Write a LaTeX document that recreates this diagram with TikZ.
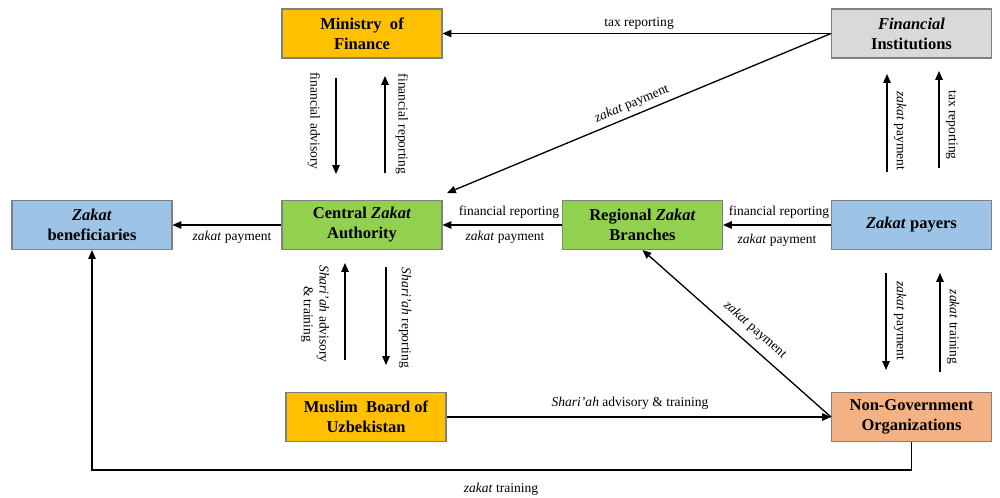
\documentclass[tikz,border=0pt]{standalone}
\usepackage{fontspec}
\setmainfont{Liberation Serif}
\usepackage{xcolor}
\usetikzlibrary{arrows.meta}

\definecolor{finorange}{HTML}{FFC000}
\definecolor{instgray}{HTML}{D9D9D9}
\definecolor{payblue}{HTML}{9DC3E6}
\definecolor{zakgreen}{HTML}{92D050}
\definecolor{ngosalmon}{HTML}{F4B183}

\tikzset{
  orgbox/.style={draw=black!50, line width=0.6pt, minimum width=3.2cm, minimum height=0.98cm,
    align=center, inner sep=1pt, font=\fontsize{9.4}{11.4}\selectfont\bfseries},
  flow/.style={-{Triangle[length=5pt,width=4.2pt]}, line width=0.75pt},
  lbl/.style={inner sep=0pt, align=center, font=\fontsize{7.7}{9}\selectfont}
}

\begin{document}
\begin{tikzpicture}[x=0.02cm, y=-0.02cm]
    \useasboundingbox (0,0) rectangle (1000,497);

    %% boxes:
    \node[orgbox, fill=finorange] (mof) at (362,33.5) {Ministry\ \ of\\Finance};
    \node[orgbox, fill=instgray] (fin) at (911.5,33.5) {\textit{Financial}\\Institutions};
    \node[orgbox, fill=payblue] (ben) at (92,225) {\textit{Zakat}\\beneficiaries};
    \node[orgbox, fill=zakgreen] (cza) at (362,225) {Central \textit{Zakat}\\Authority};
    \node[orgbox, fill=zakgreen] (rzb) at (642.5,225) {Regional \textit{Zakat}\\Branches};
    \node[orgbox, fill=payblue] (zp) at (911.5,225) {\textit{Zakat} payers};
    \node[orgbox, fill=finorange] (mbu) at (366,417) {Muslim\ \ Board of\\Uzbekistan};
    \node[orgbox, fill=ngosalmon] (ngo) at (911.5,417) {Non-Government\\Organizations};

    %% free ends of the loose arrows
    \coordinate (dz) at (447,193);
    \coordinate (fa1) at (336,78);  \coordinate (fa2) at (336,174);
    \coordinate (fr1) at (385,173); \coordinate (fr2) at (385,76);
    \coordinate (sa1) at (345,360); \coordinate (sa2) at (345,263);
    \coordinate (sr1) at (386,267); \coordinate (sr2) at (386,365);
    \coordinate (zf1) at (887,172); \coordinate (zf2) at (887,74);
    \coordinate (tf1) at (939,168); \coordinate (tf2) at (939,71);
    \coordinate (zn1) at (886,273); \coordinate (zn2) at (886,370);
    \coordinate (tn1) at (940,372); \coordinate (tn2) at (940,273);

    %% top row
    \draw[flow] (fin.west) -- (mof.east);
    \node[lbl] (ltax) at (639,23) {tax reporting};
    \draw[flow] (fin.west) -- (dz);
    \node[lbl, rotate=22.6] (lzdiag) at (632,104) {\textit{zakat} payment};
    \draw[flow] (fa1) -- (fa2);
    \node[lbl, rotate=-90] (lfa) at (314,121) {financial advisory};
    \draw[flow] (fr1) -- (fr2);
    \node[lbl, rotate=-90] (lfr) at (402,124) {financial reporting};
    \draw[flow] (zf1) -- (zf2);
    \node[lbl, rotate=-90] (lzf) at (900,131) {\textit{zakat} payment};
    \draw[flow] (tf1) -- (tf2);
    \node[lbl, rotate=-90] (ltf) at (952,125) {tax reporting};

    %% middle row
    \draw[flow] (cza.west) -- (ben.east);
    \node[lbl] (lzb) at (232,237) {\textit{zakat} payment};
    \draw[flow] (rzb.west) -- (cza.east);
    \node[lbl] (lfr1) at (509,212) {financial reporting};
    \node[lbl] (lzp1) at (505,237) {\textit{zakat} payment};
    \draw[flow] (zp.west) -- (rzb.east);
    \node[lbl] (lfr2) at (779,212) {financial reporting};
    \node[lbl] (lzp2) at (777,240) {\textit{zakat} payment};

    %% lower row
    \draw[flow] (sa1) -- (sa2);
    \node[lbl, rotate=-90] (lsa) at (315,314) {\textit{Shari’ah} advisory\\\& training};
    \draw[flow] (sr1) -- (sr2);
    \node[lbl, rotate=-90] (lsr) at (405,318) {\textit{Shari’ah} reporting};
    \draw[flow] (zn1) -- (zn2);
    \node[lbl, rotate=-90] (lzn) at (900,321) {\textit{zakat} payment};
    \draw[flow] (tn1) -- (tn2);
    \node[lbl, rotate=-90] (ltn) at (953,327) {\textit{zakat} training};
    \draw[flow] (ngo.west) -- (rzb.south);
    \node[lbl, rotate=-41.5] (lzn2) at (755,330) {\textit{zakat} payment};
    \draw[flow] (mbu.east) -- (ngo.west);
    \node[lbl] (lsat) at (630,403) {\textit{Shari’ah} advisory \& training};
    \draw[flow] (ngo.south) -- ++(0,28) -| (ben.south);
    \node[lbl] (lzt) at (501,489) {\textit{zakat} training};

\end{tikzpicture}
\end{document}
